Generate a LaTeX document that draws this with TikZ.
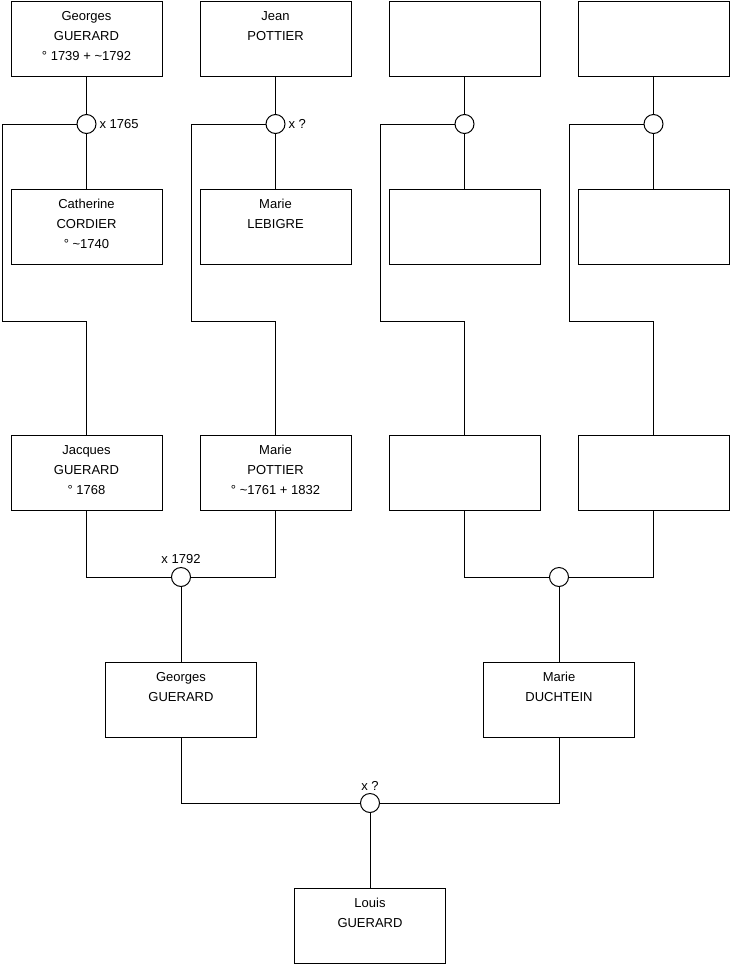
\documentclass[tikz,border=0pt]{standalone}
\usepackage{fontspec}
\setmainfont{Liberation Sans}
\usepackage{tikz}
\usetikzlibrary{positioning,calc}

\newcommand{\namefont}{\fontsize{13}{20}\selectfont}

\begin{document}
\begin{tikzpicture}[
    x=1pt, y=-1pt, line width=1pt,
    person/.style={draw, rectangle, minimum width=151pt, minimum height=75pt, inner sep=0pt, outer sep=0pt},
    names/.style={label={[anchor=north, align=center, inner sep=0pt, yshift=-10pt, font=\namefont]north:#1}},
    union/.style={draw, circle, fill=white, minimum size=19pt, inner sep=0pt, outer sep=0pt},
    date/.style={inner sep=3pt, font=\namefont},
    link/.style={draw}
]

\path[use as bounding box, fill=white] (0,0) rectangle (740,975);

% grand-parents
\node[person, names={Georges\\GUERARD\\° 1739 + \textasciitilde1792}] (gg) at (86.5,38.5) {};
\node[person, names={Jean\\POTTIER}, right=38pt of gg] (jp) {};
\node[person, right=38pt of jp] (e1) {};
\node[person, right=38pt of e1] (e2) {};

\node[union, below=38.5pt of gg] (u1) {};
\node[union, below=38.5pt of jp] (u2) {};
\node[union, below=38.5pt of e1] (u3) {};
\node[union, below=38.5pt of e2] (u4) {};

\node[date, right=0pt of u1] (d1) {x 1765};
\node[date, right=0pt of u2] (d2) {x ?};

\node[person, names={Catherine\\CORDIER\\° \textasciitilde1740}, below=113pt of gg] (cc) {};
\node[person, names={Marie\\LEBIGRE}, below=113pt of jp] (ml) {};
\node[person, below=113pt of e1] (e3) {};
\node[person, below=113pt of e2] (e4) {};

% parents
\node[person, names={Jacques\\GUERARD\\° 1768}, below=171pt of cc] (jg) {};
\node[person, names={Marie\\POTTIER\\° \textasciitilde1761 + 1832}, below=171pt of ml] (mp) {};
\node[person, below=171pt of e3] (e5) {};
\node[person, below=171pt of e4] (e6) {};

\node[union] (u5) at ($(jg.south)!0.5!(mp.south)+(0,67)$) {};
\node[union] (u6) at ($(e5.south)!0.5!(e6.south)+(0,67)$) {};
\node[date, above=0pt of u5] (d5) {x 1792};

\node[person, names={Georges\\GUERARD}, below=75.5pt of u5] (gj) {};
\node[person, names={Marie\\DUCHTEIN}, below=75.5pt of u6] (md) {};

\node[union] (u7) at ($(gj.south)!0.5!(md.south)+(0,66)$) {};
\node[date, above=0pt of u7] (d7) {x ?};

\node[person, names={Louis\\GUERARD}, below=75.5pt of u7] (lg) {};

\coordinate (k1) at (2,321);
\coordinate (k2) at (191,321);
\coordinate (k3) at (380,321);
\coordinate (k4) at (569,321);

\draw[link] (gg) -- (u1) -- (cc);
\draw[link] (jp) -- (u2) -- (ml);
\draw[link] (e1) -- (u3) -- (e3);
\draw[link] (e2) -- (u4) -- (e4);

\draw[link] (u1.west) -| (k1) -| (jg.north);
\draw[link] (u2.west) -| (k2) -| (mp.north);
\draw[link] (u3.west) -| (k3) -| (e5.north);
\draw[link] (u4.west) -| (k4) -| (e6.north);

\draw[link] (jg.south) |- (u5.west);
\draw[link] (mp.south) |- (u5.east);
\draw[link] (e5.south) |- (u6.west);
\draw[link] (e6.south) |- (u6.east);
\draw[link] (u5) -- (gj);
\draw[link] (u6) -- (md);

\draw[link] (gj.south) |- (u7.west);
\draw[link] (md.south) |- (u7.east);
\draw[link] (u7) -- (lg);

\end{tikzpicture}
\end{document}
